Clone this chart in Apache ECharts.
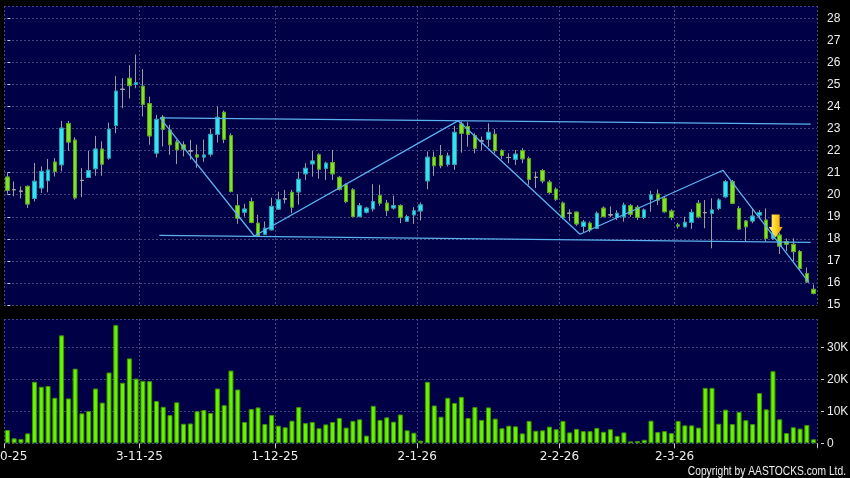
<!DOCTYPE html>
<html>
<head>
<meta charset="utf-8">
<script src="https://cdn.jsdelivr.net/npm/echarts@6/dist/echarts.min.js"></script>
<style>
html,body{margin:0;padding:0;background:#000;}
#chart{width:850px;height:478px;}
</style>
</head>
<body>
<div id="chart"></div>
<script>
// ---- data ----
var opens  = [20.80,20.23,20.16,20.38,19.83,20.31,20.64,21.48,21.36,23.23,22.48,20.65,20.79,21.18,22.07,21.66,23.14,24.78,25.28,25.00,
              24.92,24.13,21.89,23.52,22.93,22.39,22.26,21.99,21.81,21.71,21.84,22.74,23.74,22.68,19.50,19.21,19.69,18.71,18.21,18.41,
              19.35,19.81,20.11,20.13,20.95,21.40,21.81,21.20,21.46,20.79,20.45,20.22,19.01,19.21,19.36,19.96,19.62,19.40,19.51,18.80,
              19.09,19.27,20.63,21.70,21.78,21.38,21.38,23.21,23.09,22.68,22.44,22.52,22.74,22.00,21.69,21.61,22.00,21.64,20.79,21.10,
              20.57,20.25,19.62,19.16,19.21,18.56,18.71,18.48,19.39,19.09,18.97,19.00,19.50,19.43,18.97,19.79,20.03,19.84,19.26,18.63,
              18.55,18.75,19.61,19.19,19.16,19.38,19.91,20.59,19.38,18.81,18.81,19.08,18.85,18.02,18.17,17.87,17.75,17.42,16.43,15.71];
var closes = [20.20,20.23,20.16,19.58,20.61,21.06,21.12,21.06,23.02,22.39,19.86,20.65,21.09,22.07,21.39,22.97,24.70,24.78,24.95,25.08,
              24.10,22.67,23.42,22.97,22.27,22.04,22.07,21.99,21.71,21.80,22.74,23.51,22.52,20.15,18.94,19.35,18.74,18.14,18.48,19.47,
              19.77,19.81,19.44,20.70,21.20,21.53,21.16,21.43,20.95,20.25,19.69,19.01,19.50,19.39,19.69,19.62,19.28,19.51,18.98,19.01,
              19.27,19.54,21.70,21.32,21.32,21.76,22.83,22.79,22.74,22.11,22.44,22.83,22.00,21.78,21.69,21.84,21.63,20.70,20.79,20.63,
              20.10,19.80,18.98,19.16,18.68,18.76,18.41,19.16,19.01,19.09,19.16,19.53,19.12,18.97,19.31,19.99,19.76,19.23,18.97,18.58,
              18.75,19.20,19.00,19.19,19.31,19.76,20.59,19.61,18.45,18.55,19.03,19.19,18.02,18.28,17.67,17.76,17.42,16.66,16.05,15.53];
var lows   = [20.05,19.93,19.83,19.40,19.70,20.08,20.11,20.83,21.06,22.00,19.78,19.89,20.76,20.86,20.86,21.59,22.79,23.92,24.37,24.83,
              23.55,22.27,21.69,22.19,21.81,21.39,21.74,21.59,21.22,21.50,21.73,22.37,22.34,20.10,18.68,19.01,18.71,18.11,18.18,18.38,
              19.32,19.60,19.16,19.55,20.67,20.82,20.73,20.67,20.67,20.19,19.62,18.98,18.98,19.15,19.24,19.50,19.04,19.32,18.71,18.77,
              18.68,18.83,20.25,20.86,21.20,21.28,21.13,21.91,22.18,21.88,22.03,22.18,21.88,21.61,21.43,21.35,21.43,20.45,20.30,20.52,
              20.04,19.72,18.89,18.79,18.59,18.29,18.30,18.44,18.98,18.98,18.85,18.78,19.00,18.85,18.90,19.23,19.53,19.19,18.85,18.47,
              18.52,18.45,18.93,18.48,17.57,19.30,19.84,19.58,18.40,17.90,18.71,18.90,17.87,17.96,17.31,17.44,16.99,16.59,16.00,15.48];
var highs  = [20.98,20.60,20.38,20.42,21.44,21.29,21.62,21.66,23.35,23.35,22.60,21.21,21.99,22.67,22.42,23.27,25.38,25.28,25.88,26.36,
              25.70,24.45,23.62,23.62,23.17,22.49,22.42,22.49,22.27,22.50,23.00,24.00,23.82,22.79,20.02,19.59,19.87,19.09,18.79,19.87,
              20.14,20.22,20.22,21.05,21.43,21.99,21.88,21.50,22.03,20.85,20.52,20.30,19.62,19.45,20.48,20.45,19.77,19.96,19.57,19.09,
              19.44,19.65,21.96,21.96,22.26,21.91,23.12,23.32,23.29,22.79,22.64,23.24,22.97,22.06,21.88,22.03,22.11,21.73,21.05,21.17,
              20.67,20.33,19.69,19.34,19.24,18.86,18.79,19.24,19.47,19.47,19.30,19.64,19.58,19.53,19.38,20.18,20.24,19.91,19.34,18.72,
              19.00,19.34,19.76,19.76,19.84,19.84,20.67,20.67,19.49,18.85,19.38,19.30,19.38,18.70,18.28,18.02,18.02,17.49,16.70,15.93];
// volume in thousands of shares
var volumes = [4.15,1.56,1.35,3.1,19.2,17.65,17.9,14.2,33.7,14.0,23.3,9.35,10.1,17.1,12.7,22.1,36.9,18.9,26.5,20.2,
               19.5,19.4,13.2,11.4,8.8,12.8,6.1,6.2,10.0,10.4,9.45,17.1,11.9,22.7,16.8,6.65,10.7,11.2,6.0,8.8,
               5.5,5.0,7.06,11.3,6.3,6.65,4.7,5.9,6.65,7.9,4.9,7.0,7.5,2.4,11.7,7.3,8.1,6.75,9.0,4.05,
               3.3,0.83,19.2,11.8,8.3,14.2,12.6,14.5,7.9,11.3,7.3,11.2,7.7,4.7,5.5,5.3,3.1,7.0,3.9,4.05,
               5.2,4.4,7.0,3.4,4.5,3.8,3.8,4.8,3.6,4.4,2.3,3.4,0.6,0.7,1.1,7.06,3.5,3.8,3.2,7.0,
               5.6,5.6,4.9,17.3,17.3,6.1,10.5,6.0,9.8,7.2,6.0,15.7,10.6,22.5,7.5,3.2,5.0,4.6,5.7,1.25];
// x tick labels (trading-day index -> label)
var xLabelIdx  = [0, 20, 40, 61, 82, 99];
var xLabelText = ['2-10-25', '3-11-25', '1-12-25', '2-1-26', '2-2-26', '2-3-26'];
// trend lines, [trading-day index, price]
var upperLine = [[22.53, 23.49], [118.57, 23.20]];
var lowerLine = [[22.42, 18.16], [118.57, 17.84]];
var zigzag    = [[22.53, 23.49], [36.45, 18.13], [66.56, 23.36], [84.52, 18.21], [105.63, 21.11], [118.32, 16.01]];
var arrowPoint = [[113.4, 18.58]];
var copyrightText = 'Copyright by AASTOCKS.com Ltd.';

// ---- build ----
var N = opens.length;
var categories = opens.map(function (_, i) { return String(i); });
var wickData = opens.map(function (o, i) { return [o, closes[i], lows[i], highs[i]]; });
var bodyData = opens.map(function (o, i) { var c = closes[i]; return [o, c, Math.min(o, c), Math.max(o, c)]; });
function isLabel(i) { return xLabelIdx.indexOf(i) >= 0; }

var gridLine = { color: '#46467e', type: [2, 2], width: 1 };
var labelColor = '#eeeeee';

var chart = echarts.init(document.getElementById('chart'));
chart.setOption({
  animation: false,
  backgroundColor: '#000000',
  grid: [
    { left: 4, right: 33, top: 6, height: 299, backgroundColor: '#000046', show: true, borderWidth: 0, outerBoundsMode: 'none', containLabel: false },
    { left: 4, right: 33, top: 319, bottom: 34.7, backgroundColor: '#000046', show: true, borderWidth: 0, outerBoundsMode: 'none', containLabel: false }
  ],
  xAxis: [
    { type: 'category', gridIndex: 0, data: categories, boundaryGap: true,
      axisLine: { show: false }, axisTick: { show: false }, axisLabel: { show: false },
      splitLine: { show: true, interval: function (i) { return isLabel(i); }, lineStyle: gridLine } },
    { type: 'category', gridIndex: 1, data: categories, boundaryGap: true,
      axisLine: { show: false },
      axisTick: { show: true, interval: function (i) { return isLabel(i); }, length: 5, lineStyle: { color: '#cccccc' } },
      axisLabel: { show: true, interval: function (i) { return isLabel(i); },
        formatter: function (v, i) { var k = xLabelIdx.indexOf(i); return k >= 0 ? xLabelText[k] : ''; },
        color: labelColor, fontFamily: 'DejaVu Sans', fontSize: 12, margin: 8, padding: [0, 7, 0, 0] },
      splitLine: { show: true, interval: function (i) { return isLabel(i); }, lineStyle: gridLine } },
    { type: 'value', gridIndex: 0, min: -0.5, max: N - 0.5, show: false }
  ],
  yAxis: [
    { type: 'value', gridIndex: 0, position: 'right', min: 15, max: 28.56, interval: 1, offset: 4,
      axisLine: { show: false },
      axisTick: { show: true, length: 3, lineStyle: { color: '#cccccc' } },
      axisLabel: { color: labelColor, fontFamily: 'Liberation Sans', fontSize: 12, margin: 6, showMaxLabel: false },
      splitLine: { show: true, lineStyle: gridLine } },
    { type: 'value', gridIndex: 1, position: 'right', min: 0, max: 38.8, interval: 10, offset: 4,
      axisLine: { show: false },
      axisTick: { show: true, length: 3, lineStyle: { color: '#cccccc' } },
      axisLabel: { color: labelColor, fontFamily: 'Liberation Sans', fontSize: 12, margin: 6, showMaxLabel: false,
        formatter: function (v) { return v === 0 ? '0' : v + 'K'; } },
      splitLine: { show: true, lineStyle: gridLine } }
  ],
  series: [
    { type: 'candlestick', xAxisIndex: 0, yAxisIndex: 0, data: wickData, barWidth: 4,
      itemStyle: { color: 'rgba(0,0,0,0)', color0: 'rgba(0,0,0,0)', borderColor: '#9c9c9c', borderColor0: '#9c9c9c', borderColorDoji: '#9c9c9c', borderWidth: 1 } },
    { type: 'candlestick', xAxisIndex: 0, yAxisIndex: 0, data: bodyData, barWidth: 4,
      itemStyle: { color: '#36e2f2', color0: '#82e22a', borderColor: '#1aa2b4', borderColor0: '#55a816', borderColorDoji: '#a4a4a4', borderWidth: 1 } },
    { type: 'bar', xAxisIndex: 1, yAxisIndex: 1, data: volumes, barWidth: 5,
      itemStyle: { color: '#66f200', borderColor: '#3d9400', borderWidth: 1 } },
    { type: 'line', xAxisIndex: 2, yAxisIndex: 0, data: upperLine, symbol: 'none', silent: true,
      lineStyle: { color: '#5cb2f0', width: 1.3 } },
    { type: 'line', xAxisIndex: 2, yAxisIndex: 0, data: lowerLine, symbol: 'none', silent: true,
      lineStyle: { color: '#5cb2f0', width: 1.3 } },
    { type: 'line', xAxisIndex: 2, yAxisIndex: 0, data: zigzag, symbol: 'none', silent: true,
      lineStyle: { color: '#5cb2f0', width: 1.3 } },
    { type: 'scatter', xAxisIndex: 2, yAxisIndex: 0, data: arrowPoint, silent: true, z: 5,
      symbol: 'path://M3,0 L11,0 L11,12 L14,12 L7,22 L0,12 L3,12 Z', symbolSize: [14, 23],
      itemStyle: { opacity: 1, color: { type: 'linear', x: 0, y: 0, x2: 1, y2: 0,
        colorStops: [{ offset: 0, color: '#fff59a' }, { offset: 0.5, color: '#ffd21e' }, { offset: 1, color: '#e69a00' }] } } }
  ],
  graphic: [
    { type: 'text', x: 846, y: 472, scaleX: 0.82, silent: true,
      style: { text: copyrightText, fill: '#eeeeee', align: 'right', verticalAlign: 'middle',
        font: '12.5px "Liberation Sans", sans-serif' } }
  ]
});
</script>
</body>
</html>
